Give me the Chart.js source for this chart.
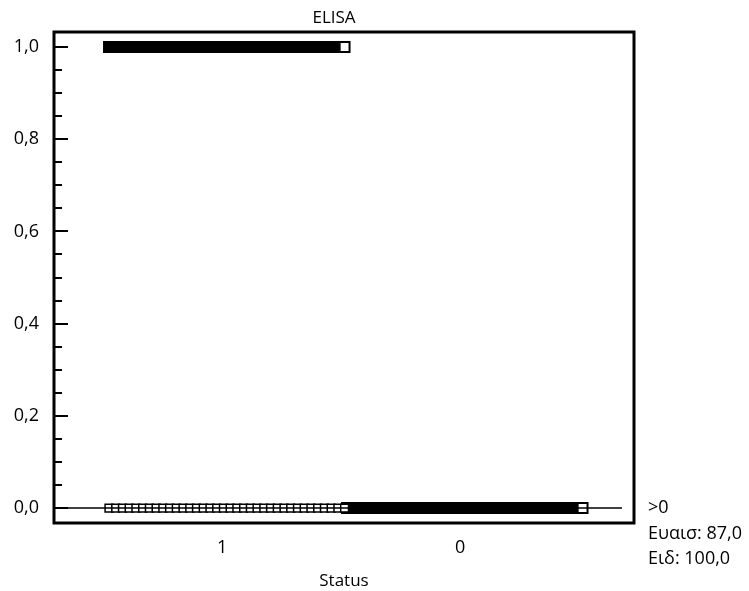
<!DOCTYPE html>
<html>
<head>
<meta charset="utf-8">
<script src="https://cdn.jsdelivr.net/npm/chart.js@4/dist/chart.umd.min.js"></script>
<style>
  html, body { margin: 0; padding: 0; background: #fff; }
  canvas { display: block; }
</style>
</head>
<body>
<canvas id="myChart" width="749" height="591"></canvas>
<script>
// Data
var chartTitle = "ELISA";
var axisTitle = "Status";
var statusLabels = ["1", "0"];          // categories, left to right
var elisaLevels = [1.0, 0.0];            // observed ELISA values
var countsStatus1 = [241, 36];           // n at 1,0 and 0,0 for Status 1
var countsStatus0 = [0, 243];            // n at 1,0 and 0,0 for Status 0
var yTicks = [0, 0.2, 0.4, 0.6, 0.8, 1.0];
var cutoffValue = 0;
var infoLines = [">0", "Ευαισ: 87,0", "Ειδ: 100,0"];

var groupCounts = [countsStatus1, countsStatus0];

// dot diagram: points of the same value are spread across the category width
var datasets = [];
for (var g = 0; g < statusLabels.length; g++) {
  var center = g + 1;
  for (var k = 0; k < elisaLevels.length; k++) {
    var n = groupCounts[g][k];
    if (!n) continue;
    var pts = [];
    for (var i = 0; i < n; i++) {
      var off = n > 1 ? -0.475 + (0.99 * i) / (n - 1) : 0;
      pts.push({ x: center + off, y: elisaLevels[k] });
    }
    var dense = n > 100;
    datasets.push({
      data: pts,
      pointStyle: "rect",
      pointRadius: dense ? 7 : 5.5,
      pointBackgroundColor: "#fff",
      pointBorderColor: "#000",
      pointBorderWidth: dense ? 2 : 1.5,
    });
  }
}

function fmt(v) {
  return v.toFixed(1).replace(".", ",");
}

var FONT = "'Open Sans', 'Noto Sans', sans-serif";

var framePlugin = {
  id: "frame",
  afterDatasetsDraw: function (chart) {
    var ctx = chart.ctx;
    var a = chart.chartArea;
    var ys = chart.scales.y;
    ctx.save();
    ctx.strokeStyle = "#000";

    // cutoff line
    var yc = ys.getPixelForValue(cutoffValue);
    ctx.lineWidth = 1.5;
    ctx.beginPath();
    ctx.moveTo(a.left + 14, yc);
    ctx.lineTo(a.right - 12, yc);
    ctx.stroke();

    // inward ticks
    ctx.lineWidth = 2;
    for (var s = 0; s <= 20; s++) {
      var v = s * 0.05;
      var py = Math.round(ys.getPixelForValue(v));
      var len = s % 4 === 0 ? 14 : 8;
      ctx.beginPath();
      ctx.moveTo(a.left, py);
      ctx.lineTo(a.left + len, py);
      ctx.stroke();
    }

    // box
    ctx.lineWidth = 3;
    ctx.strokeRect(a.left, a.top, a.right - a.left, a.bottom - a.top);

    // title
    ctx.fillStyle = "#000";
    ctx.font = "17px " + FONT;
    ctx.textAlign = "center";
    ctx.textBaseline = "middle";
    ctx.fillText(chartTitle, 334, 18);

    // criterion text
    ctx.font = "18px " + FONT;
    ctx.textAlign = "left";
    for (var t = 0; t < infoLines.length; t++) {
      ctx.fillText(infoLines[t], a.right + 14, yc + t * 25.5);
    }
    ctx.restore();
  },
};

new Chart("myChart", {
  type: "scatter",
  data: { datasets: datasets },
  options: {
    responsive: false,
    animation: false,
    devicePixelRatio: 1,
    events: [],
    layout: { padding: { top: 32, right: 115, left: 0, bottom: 0 } },
    plugins: { legend: { display: false }, title: { display: false }, tooltip: { enabled: false } },
    scales: {
      x: {
        type: "linear",
        min: 0.294,
        max: 2.731,
        grid: { display: false, drawTicks: false },
        border: { display: false },
        afterFit: function (scale) { scale.height = 68; },
        afterBuildTicks: function (scale) {
          scale.ticks = statusLabels.map(function (l, i) { return { value: i + 1 }; });
        },
        ticks: {
          padding: 14,
          color: "#000",
          font: { family: FONT, size: 18 },
          callback: function (v) { return statusLabels[v - 1]; },
        },
        title: {
          display: true,
          text: axisTitle,
          color: "#000",
          font: { family: FONT, size: 17 },
          padding: { top: 0, bottom: 0 },
        },
      },
      y: {
        min: -0.0325,
        max: 1.0325,
        grid: { display: false, drawTicks: false },
        border: { display: false },
        afterFit: function (scale) { scale.width = 54; },
        afterBuildTicks: function (scale) {
          scale.ticks = yTicks.map(function (v) { return { value: v }; });
        },
        ticks: {
          padding: 15,
          color: "#000",
          font: { family: FONT, size: 18 },
          callback: function (v) { return fmt(v); },
        },
      },
    },
  },
  plugins: [framePlugin],
});
</script>
</body>
</html>
